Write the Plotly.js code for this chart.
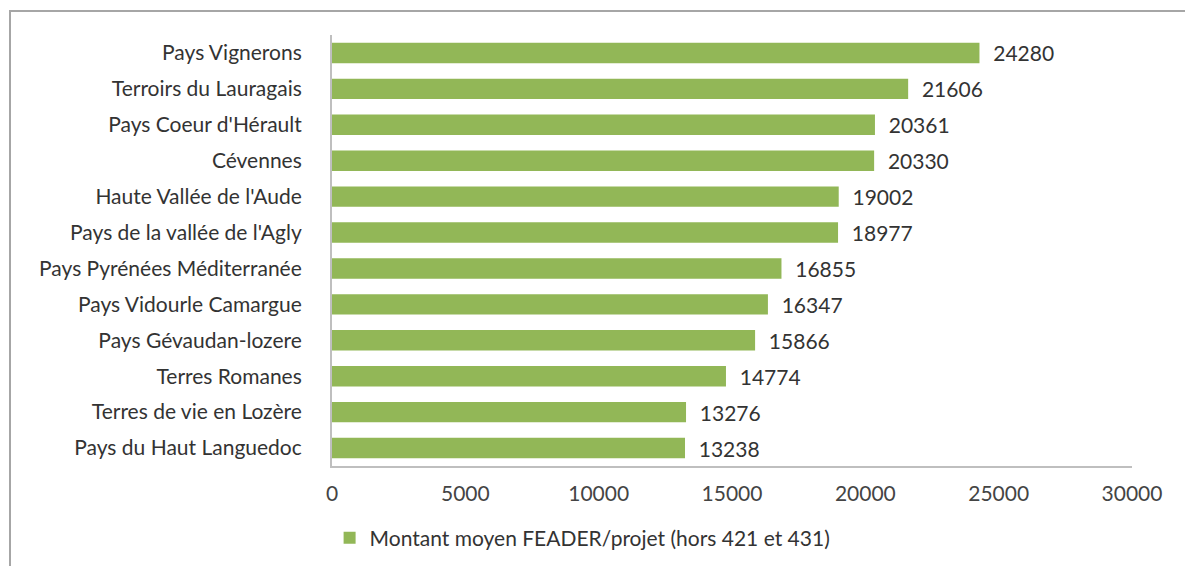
<!DOCTYPE html>
<html>
<head>
<meta charset="utf-8">
<script src="https://cdn.plot.ly/plotly-3.0.1.min.js"></script>
<style>
  html, body { margin: 0; padding: 0; background: #fff; }
  #wrap { position: relative; width: 1185px; height: 566px; }
  #frame { position: absolute; left: 9px; top: 10px; right: 0; bottom: 0;
           border-top: 2px solid #a6a6a6; border-left: 2px solid #a6a6a6; pointer-events: none; }
  #chart { position: absolute; left: 0; top: 0; width: 1185px; height: 566px; }
</style>
</head>
<body>
<div id="wrap">
  <div id="chart"></div>
  <div id="frame"></div>
</div>
<script>
const categories = [
  "Pays Vignerons",
  "Terroirs du Lauragais",
  "Pays Coeur d'Hérault",
  "Cévennes",
  "Haute Vallée de l'Aude",
  "Pays de la vallée de l'Agly",
  "Pays Pyrénées Méditerranée",
  "Pays Vidourle Camargue",
  "Pays Gévaudan-lozere",
  "Terres Romanes",
  "Terres de vie en Lozère",
  "Pays du Haut Languedoc"
];
const values = [24280, 21606, 20361, 20330, 19002, 18977, 16855, 16347, 15866, 14774, 13276, 13238];
const seriesName = "Montant moyen FEADER/projet (hors 421 et 431)";
const xTicks = [0, 5000, 10000, 15000, 20000, 25000, 30000];

const font = "Lato, Open Sans, sans-serif";

const trace = {
  type: "bar",
  orientation: "h",
  y: categories,
  x: values,
  name: seriesName,
  marker: { color: "#92b757" },
  text: values.map(v => "\u00a0\u00a0" + v),
  textposition: "outside",
  constraintext: "none",
  textfont: { family: font, size: 21, color: "#333333" },
  cliponaxis: false,
  hoverinfo: "x+y"
};

const layout = {
  width: 1185,
  height: 566,
  margin: { l: 332, r: 53, t: 35, b: 100, autoexpand: false },
  paper_bgcolor: "#ffffff",
  plot_bgcolor: "#ffffff",
  bargap: 0.43,
  showlegend: true,
  legend: {
    orientation: "h",
    x: -0.003, xanchor: "left",
    y: -0.167, yanchor: "middle",
    font: { family: font, size: 21, color: "#333333" },
    itemwidth: 30
  },
  xaxis: {
    range: [0, 30000],
    tickvals: xTicks,
    ticktext: xTicks.map(String),
    showgrid: false,
    zeroline: false,
    showline: true,
    linecolor: "#bfbfbf",
    linewidth: 2,
    ticks: "",
    ticklabelstandoff: 8,
    tickfont: { family: font, size: 21, color: "#444444" },
    fixedrange: true,
    automargin: false
  },
  yaxis: {
    type: "category",
    autorange: "reversed",
    showgrid: false,
    zeroline: false,
    showline: true,
    linecolor: "#bfbfbf",
    linewidth: 2,
    ticks: "",
    ticklabelstandoff: 24,
    tickfont: { family: font, size: 21, color: "#333333" },
    fixedrange: true,
    automargin: false
  }
};

Plotly.newPlot("chart", [trace], layout, { displayModeBar: false, staticPlot: true });
</script>
</body>
</html>
